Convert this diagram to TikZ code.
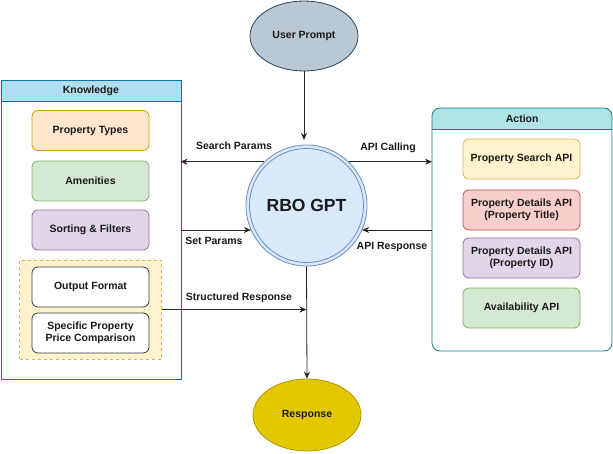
\documentclass[tikz,border=0pt]{standalone}
\usepackage{fontspec}
\setmainfont{Liberation Sans}
\usetikzlibrary{arrows.meta,shapes.geometric}
\definecolor{kfill}{HTML}{B1DDF0}\definecolor{kline}{HTML}{10739E}
\definecolor{afill}{HTML}{B0E3E6}\definecolor{aline}{HTML}{0E8088}
\definecolor{ofill}{HTML}{FFE6CC}\definecolor{oline}{HTML}{D79B00}
\definecolor{gfill}{HTML}{D5E8D4}\definecolor{gline}{HTML}{82B366}
\definecolor{pfill}{HTML}{E1D5E7}\definecolor{pline}{HTML}{9673A6}
\definecolor{yfill}{HTML}{FFF2CC}\definecolor{yline}{HTML}{D6B656}
\definecolor{rfill}{HTML}{F8CECC}\definecolor{rline}{HTML}{B85450}
\definecolor{bfill}{HTML}{DAE8FC}\definecolor{bline}{HTML}{6C8EBF}
\definecolor{ufill}{HTML}{BAC8D3}\definecolor{uline}{HTML}{23445D}
\definecolor{efill}{HTML}{E3C800}\definecolor{eline}{HTML}{B09500}
\definecolor{wline}{HTML}{36393D}
\definecolor{txt}{HTML}{1A1A1A}
\tikzset{
  every node/.style={font=\bfseries\fontsize{10.5}{12.5}\selectfont, text=txt},
  item/.style={draw, rounded corners=6pt, minimum width=117pt, minimum height=40pt, align=center, inner sep=0pt, line width=0.8pt},
  conn/.style={draw=black!85, line width=0.8pt, -{Stealth[length=7pt,width=6pt]}},
  lbl/.style={inner sep=1pt},
}
\begin{document}
\begin{tikzpicture}[x=1pt,y=-1pt]
\useasboundingbox (0,0) rectangle (613,453);
% Knowledge container
\node[draw=kline, fill=white, line width=0.8pt, minimum width=180pt, minimum height=299pt, inner sep=0pt, anchor=north west] (kbox) at (0.5,80) {};
\node[draw=kline, fill=kfill, line width=0.8pt, minimum width=180pt, minimum height=21pt, inner sep=0pt, anchor=north west] (khead) at (0.5,80) {Knowledge};
\node[item, fill=ofill, draw=oline] (ptypes) at (90.5,130.5) {Property Types};
\node[item, fill=gfill, draw=gline] (amen) at (90.5,181) {Amenities};
\node[item, fill=pfill, draw=pline] (sort) at (90.5,230) {Sorting \& Filters};
\node[draw=yline, fill=yfill, dashed, line width=0.8pt, minimum width=142pt, minimum height=99pt, inner sep=0pt] (ybox) at (90.5,309.5) {};
\node[item, fill=white, draw=wline] (outf) at (90.5,287) {Output Format};
\node[item, fill=white, draw=wline] (spec) at (90.5,333) {Specific Property\\Price Comparison};
% Action container
\node[minimum width=180pt, minimum height=21pt, inner sep=0pt, anchor=north west] (ahead) at (432,108) {};
\begin{scope}
\clip[rounded corners=8pt] (432,108) rectangle (612,351);
\fill[white] (432,108) rectangle (612,351);
\fill[afill] (432,108) rectangle (612,129);
\end{scope}
\draw[draw=aline, line width=0.8pt, rounded corners=8pt] (432,108) rectangle (612,351);
\draw[draw=aline, line width=0.8pt] (432,129) -- (612,129);
\node at (ahead.center) {Action};
\coordinate (aleft1) at (432,162);
\coordinate (aleft2) at (432,230);
\node[item, fill=yfill, draw=yline] (psearch) at (521.5,159) {Property Search API};
\node[item, fill=rfill, draw=rline] (ptitle) at (521.5,210) {Property Details API\\(Property Title)};
\node[item, fill=pfill, draw=pline] (pid) at (521.5,258) {Property Details API\\(Property ID)};
\node[item, fill=gfill, draw=gline] (avail) at (521.5,308) {Availability API};
% Centre
\node[circle, draw=bline, fill=bfill, line width=0.8pt, minimum size=121pt, inner sep=0pt] (gpto) at (306.5,205.5) {};
\node[circle, draw=bline, line width=0.8pt, minimum size=114pt, inner sep=0pt, font=\bfseries\fontsize{17.5}{20}\selectfont] (gpt) at (306.5,205.5) {RBO GPT};
\node[ellipse, draw=uline, fill=ufill, line width=0.8pt, minimum width=108pt, minimum height=70pt, inner sep=0pt] (user) at (304,36) {User Prompt};
\node[ellipse, draw=eline, fill=efill, line width=0.8pt, minimum width=108pt, minimum height=72pt, inner sep=0pt] (resp) at (307,415) {Response};
% Connectors
\coordinate (kr1) at (180.5,162);
\coordinate (kr2) at (180.5,230);
\coordinate (srend) at (306.5,309.5);
\coordinate (utop) at (304,140);
\draw[conn] (user.south) -- (utop);
\draw[conn] (gpto.134) -- (gpto.134 -| kr1);
\draw[conn] (gpto.46) -- (gpto.46 -| aleft1);
\draw[conn] (kr2) -- (gpto.204 |- kr2);
\draw[conn] (aleft2) -- (gpto.336 |- aleft2);
\draw[conn] (ybox.east |- srend) -- (srend);
\draw[conn] (gpto.south) -- (resp.north);
% Labels
\node[lbl] (l1) at (234,146) {Search Params};
\node[lbl] (l2) at (388,148) {API Calling};
\node[lbl] (l3) at (214,241) {Set Params};
\node[lbl] (l4) at (392,247) {API Response};
\node[lbl] (l5) at (239,298) {Structured Response};
\end{tikzpicture}
\end{document}
